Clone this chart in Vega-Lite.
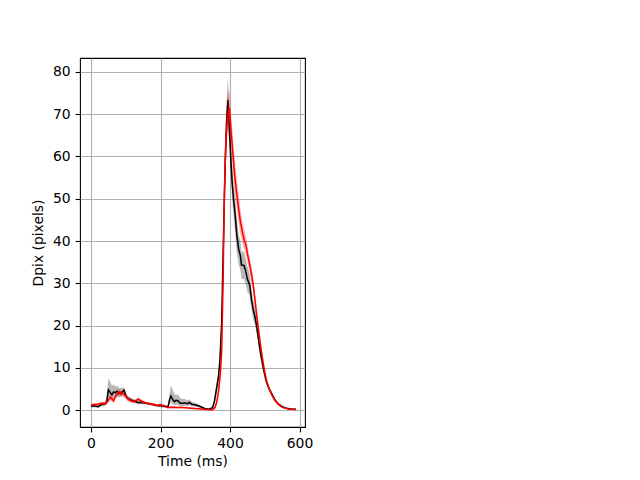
{
  "$schema": "https://vega.github.io/schema/vega-lite/v6.json",
  "autosize": "none",
  "padding": {"left": 80, "top": 58, "right": 335, "bottom": 53},
  "width": 225,
  "height": 369,
  "config": {
    "view": {"stroke": "black", "strokeWidth": 1.1},
    "font": "DejaVu Sans",
    "axis": {
      "domain": false,
      "grid": true,
      "gridColor": "#b0b0b0",
      "gridWidth": 1.1,
      "tickColor": "black",
      "tickSize": 4.9,
      "tickWidth": 1.1,
      "labelPadding": 4.9,
      "labelFont": "DejaVu Sans",
      "labelFontSize": 13.9,
      "labelColor": "black",
      "titleFont": "DejaVu Sans",
      "titleFontSize": 13.9,
      "titleFontWeight": "normal",
      "titleColor": "black"
    }
  },
  "datasets": {
    "black": [
      {"t":0,"mean":0.9,"lo":0.6,"hi":1.2},{"t":10,"mean":1.0,"lo":0.7,"hi":1.3},{"t":20,"mean":0.8,"lo":0.5,"hi":1.1},{"t":30,"mean":1.3,"lo":0.9,"hi":1.7},{"t":40,"mean":1.5,"lo":1.0,"hi":2.0},{"t":45,"mean":2.0,"lo":1.4,"hi":2.8},{"t":50,"mean":4.8,"lo":3.0,"hi":7.5},{"t":55,"mean":4.2,"lo":2.8,"hi":6.8},{"t":60,"mean":3.6,"lo":2.4,"hi":5.8},{"t":65,"mean":4.3,"lo":3.0,"hi":6.0},{"t":70,"mean":4.1,"lo":3.0,"hi":5.6},{"t":75,"mean":4.5,"lo":3.2,"hi":5.8},{"t":80,"mean":3.9,"lo":2.9,"hi":5.2},{"t":85,"mean":4.2,"lo":3.2,"hi":5.2},{"t":90,"mean":4.3,"lo":3.4,"hi":5.2},{"t":95,"mean":4.7,"lo":3.8,"hi":5.4},{"t":100,"mean":3.5,"lo":2.8,"hi":4.2},{"t":105,"mean":2.8,"lo":2.2,"hi":3.4},{"t":115,"mean":2.4,"lo":1.9,"hi":2.9},{"t":125,"mean":2.1,"lo":1.7,"hi":2.5},{"t":135,"mean":1.8,"lo":1.4,"hi":2.2},{"t":145,"mean":1.8,"lo":1.4,"hi":2.2},{"t":160,"mean":1.6,"lo":1.3,"hi":1.9},{"t":175,"mean":1.4,"lo":1.1,"hi":1.7},{"t":190,"mean":1.1,"lo":0.8,"hi":1.4},{"t":200,"mean":1.0,"lo":0.7,"hi":1.3},{"t":210,"mean":0.9,"lo":0.6,"hi":1.2},{"t":222,"mean":0.8,"lo":0.5,"hi":1.1},{"t":226,"mean":2.5,"lo":1.5,"hi":4.0},{"t":230,"mean":3.3,"lo":1.8,"hi":5.9},{"t":235,"mean":2.5,"lo":1.4,"hi":4.8},{"t":240,"mean":2.0,"lo":1.1,"hi":3.8},{"t":245,"mean":2.3,"lo":1.3,"hi":3.5},{"t":250,"mean":2.2,"lo":1.2,"hi":3.8},{"t":257,"mean":1.6,"lo":0.9,"hi":2.8},{"t":264,"mean":1.6,"lo":0.9,"hi":2.6},{"t":270,"mean":1.7,"lo":1.0,"hi":2.6},{"t":277,"mean":1.5,"lo":0.9,"hi":2.3},{"t":283,"mean":1.8,"lo":1.1,"hi":2.5},{"t":290,"mean":1.4,"lo":0.9,"hi":2.0},{"t":302,"mean":1.2,"lo":0.8,"hi":1.6},{"t":312,"mean":0.9,"lo":0.6,"hi":1.2},{"t":321,"mean":0.6,"lo":0.4,"hi":0.8},{"t":330,"mean":0.3,"lo":0.2,"hi":0.5},{"t":340,"mean":0.2,"lo":0.1,"hi":0.3},{"t":350,"mean":0.6,"lo":0.3,"hi":0.9},{"t":355,"mean":2.0,"lo":1.2,"hi":2.8},{"t":362,"mean":5.5,"lo":4.0,"hi":7.0},{"t":367,"mean":8.0,"lo":6.5,"hi":9.5},{"t":371,"mean":11.8,"lo":10.0,"hi":13.5},{"t":376,"mean":20.6,"lo":18.0,"hi":23.0},{"t":381,"mean":40,"lo":36,"hi":44},{"t":386,"mean":58,"lo":54,"hi":62},{"t":390,"mean":68,"lo":64,"hi":73},{"t":394,"mean":73.4,"lo":68,"hi":79},{"t":398,"mean":67,"lo":62,"hi":72},{"t":402,"mean":60,"lo":56,"hi":64},{"t":406,"mean":54,"lo":50,"hi":58},{"t":410,"mean":50,"lo":46,"hi":54},{"t":415,"mean":46,"lo":42,"hi":50},{"t":420,"mean":41,"lo":37,"hi":45},{"t":425,"mean":38,"lo":34.5,"hi":41.5},{"t":430,"mean":36.5,"lo":33,"hi":40},{"t":433,"mean":34.3,"lo":31,"hi":37.5},{"t":440,"mean":34.2,"lo":31,"hi":37.5},{"t":445,"mean":33,"lo":30,"hi":36},{"t":450,"mean":31,"lo":28,"hi":34},{"t":457,"mean":29.5,"lo":27,"hi":32},{"t":462,"mean":26,"lo":23.5,"hi":28.5},{"t":467,"mean":23.7,"lo":21.5,"hi":26},{"t":472,"mean":22,"lo":20,"hi":24},{"t":477,"mean":19.7,"lo":18,"hi":21.5},{"t":485,"mean":15,"lo":13.5,"hi":16.5},{"t":490,"mean":12.5,"lo":11.3,"hi":13.7},{"t":496,"mean":9.9,"lo":9.0,"hi":10.8},{"t":503,"mean":7.2,"lo":6.5,"hi":7.9},{"t":510,"mean":5.5,"lo":5.0,"hi":6.0},{"t":520,"mean":3.9,"lo":3.5,"hi":4.3},{"t":530,"mean":2.3,"lo":2.0,"hi":2.6},{"t":540,"mean":1.4,"lo":1.2,"hi":1.6},{"t":550,"mean":0.8,"lo":0.6,"hi":1.0},{"t":560,"mean":0.5,"lo":0.4,"hi":0.6},{"t":570,"mean":0.3,"lo":0.2,"hi":0.4},{"t":580,"mean":0.2,"lo":0.1,"hi":0.3},{"t":590,"mean":0.2,"lo":0.1,"hi":0.3}
    ],
    "red": [
      {"t":0,"mean":1.2,"lo":0.9,"hi":1.5},{"t":10,"mean":1.3,"lo":1.0,"hi":1.6},{"t":20,"mean":1.4,"lo":1.1,"hi":1.7},{"t":30,"mean":1.6,"lo":1.2,"hi":2.0},{"t":40,"mean":1.5,"lo":1.1,"hi":1.9},{"t":45,"mean":1.8,"lo":1.3,"hi":2.3},{"t":50,"mean":2.3,"lo":1.7,"hi":2.9},{"t":55,"mean":3.0,"lo":2.3,"hi":3.7},{"t":60,"mean":2.7,"lo":2.0,"hi":3.4},{"t":65,"mean":2.2,"lo":1.6,"hi":2.8},{"t":70,"mean":3.2,"lo":2.5,"hi":3.9},{"t":75,"mean":3.8,"lo":3.1,"hi":4.5},{"t":81,"mean":4.3,"lo":3.6,"hi":5.0},{"t":86,"mean":3.8,"lo":3.1,"hi":4.5},{"t":92,"mean":4.0,"lo":3.3,"hi":4.7},{"t":100,"mean":3.2,"lo":2.6,"hi":3.8},{"t":108,"mean":2.6,"lo":2.1,"hi":3.1},{"t":115,"mean":2.2,"lo":1.8,"hi":2.6},{"t":122,"mean":2.0,"lo":1.6,"hi":2.4},{"t":130,"mean":2.3,"lo":1.9,"hi":2.7},{"t":136,"mean":2.6,"lo":2.2,"hi":3.0},{"t":145,"mean":2.1,"lo":1.7,"hi":2.5},{"t":160,"mean":1.6,"lo":1.3,"hi":1.9},{"t":175,"mean":1.4,"lo":1.1,"hi":1.7},{"t":190,"mean":1.1,"lo":0.8,"hi":1.4},{"t":199,"mean":1.3,"lo":1.0,"hi":1.6},{"t":210,"mean":1.0,"lo":0.7,"hi":1.3},{"t":220,"mean":0.6,"lo":0.4,"hi":0.8},{"t":235,"mean":0.7,"lo":0.5,"hi":0.9},{"t":250,"mean":0.6,"lo":0.4,"hi":0.8},{"t":265,"mean":0.6,"lo":0.4,"hi":0.8},{"t":280,"mean":0.5,"lo":0.3,"hi":0.7},{"t":295,"mean":0.4,"lo":0.2,"hi":0.6},{"t":310,"mean":0.3,"lo":0.2,"hi":0.4},{"t":325,"mean":0.2,"lo":0.1,"hi":0.3},{"t":340,"mean":0.1,"lo":0.0,"hi":0.2},{"t":350,"mean":0.1,"lo":0.0,"hi":0.2},{"t":357,"mean":0.6,"lo":0.3,"hi":0.9},{"t":362,"mean":2.0,"lo":1.3,"hi":2.7},{"t":367,"mean":4.5,"lo":3.5,"hi":5.5},{"t":372,"mean":8.5,"lo":7.0,"hi":10.0},{"t":376,"mean":14,"lo":12,"hi":16},{"t":380,"mean":30,"lo":26,"hi":34},{"t":384,"mean":52,"lo":47,"hi":57},{"t":388,"mean":64,"lo":59,"hi":69},{"t":393,"mean":69,"lo":65,"hi":74},{"t":398,"mean":71.5,"lo":67,"hi":76},{"t":403,"mean":66,"lo":62,"hi":70},{"t":408,"mean":61,"lo":57,"hi":65},{"t":414,"mean":55,"lo":51,"hi":59},{"t":419,"mean":51.4,"lo":48,"hi":55},{"t":425,"mean":47.5,"lo":44,"hi":51},{"t":430,"mean":44.5,"lo":41.5,"hi":47.5},{"t":436,"mean":42,"lo":39.5,"hi":44.5},{"t":441,"mean":40.2,"lo":38,"hi":42.5},{"t":446,"mean":39,"lo":37,"hi":41},{"t":450,"mean":37,"lo":35,"hi":39},{"t":457,"mean":34.3,"lo":32.5,"hi":36},{"t":462,"mean":32,"lo":30,"hi":34},{"t":467,"mean":29.5,"lo":27.5,"hi":31.5},{"t":472,"mean":26,"lo":24.5,"hi":27.5},{"t":476,"mean":23,"lo":21.5,"hi":24.5},{"t":481,"mean":19.7,"lo":18.5,"hi":21},{"t":486,"mean":16.5,"lo":15.5,"hi":17.5},{"t":490,"mean":14,"lo":13,"hi":15},{"t":498,"mean":9.9,"lo":9.2,"hi":10.6},{"t":505,"mean":7.0,"lo":6.5,"hi":7.5},{"t":512,"mean":5.2,"lo":4.8,"hi":5.6},{"t":520,"mean":3.6,"lo":3.3,"hi":3.9},{"t":530,"mean":2.2,"lo":2.0,"hi":2.4},{"t":540,"mean":1.3,"lo":1.1,"hi":1.5},{"t":550,"mean":0.7,"lo":0.5,"hi":0.9},{"t":560,"mean":0.4,"lo":0.3,"hi":0.5},{"t":570,"mean":0.2,"lo":0.1,"hi":0.3},{"t":580,"mean":0.2,"lo":0.1,"hi":0.3},{"t":590,"mean":0.1,"lo":0.0,"hi":0.2}
    ]
  },
  "encoding": {
    "x": {"field": "t", "type": "quantitative", "scale": {"domain": [-31.7, 615.8], "nice": false, "zero": false}, "axis": {"values": [0, 200, 400, 600], "title": "Time (ms)", "titlePadding": 4}},
    "y": {"type": "quantitative", "scale": {"domain": [-4, 83.3], "nice": false, "zero": false}, "axis": {"values": [0, 10, 20, 30, 40, 50, 60, 70, 80], "title": "Dpix (pixels)", "titlePadding": 7}}
  },
  "layer": [
    {"data": {"name": "black"}, "mark": {"type": "area", "color": "black", "opacity": 0.28}, "encoding": {"y": {"field": "lo", "type": "quantitative"}, "y2": {"field": "hi"}}},
    {"data": {"name": "black"}, "mark": {"type": "line", "color": "black", "strokeWidth": 1.5}, "encoding": {"y": {"field": "mean", "type": "quantitative"}}},
    {"data": {"name": "red"}, "mark": {"type": "area", "color": "red", "opacity": 0.3}, "encoding": {"y": {"field": "lo", "type": "quantitative"}, "y2": {"field": "hi"}}},
    {"data": {"name": "red"}, "mark": {"type": "line", "color": "red", "strokeWidth": 1.5}, "encoding": {"y": {"field": "mean", "type": "quantitative"}}}
  ]
}
